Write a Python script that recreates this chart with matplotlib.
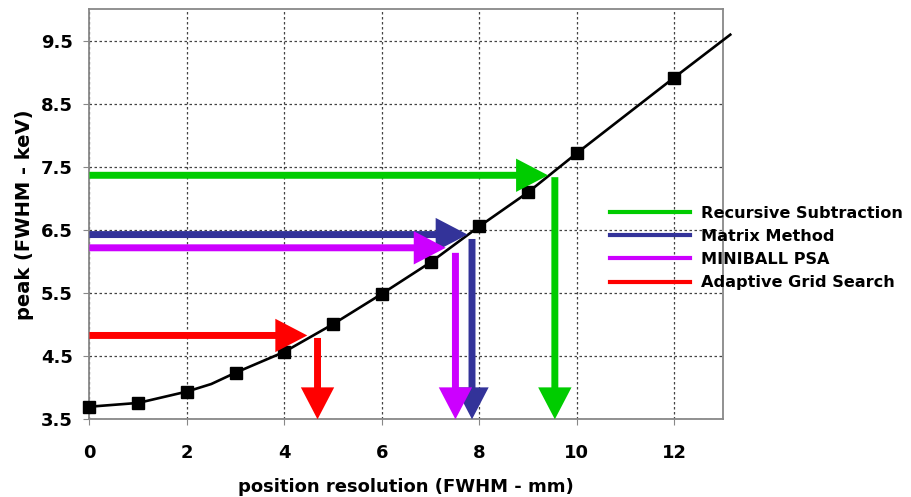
import matplotlib
matplotlib.use("Agg")
import matplotlib.pyplot as plt
from matplotlib.patches import FancyArrowPatch
from matplotlib.lines import Line2D

plt.rcParams['font.family'] = ['DejaVu Sans']
plt.rcParams['font.weight'] = 'bold'

# measured peak width vs. position resolution
resolution = [0, 1, 2, 3, 4, 5, 6, 7, 8, 9, 10, 12]
peak = [3.70, 3.76, 3.94, 4.24, 4.57, 5.01, 5.49, 5.99, 6.56, 7.10, 7.72, 8.92]
# trend line continues a little past the last measured point
trend_x = [0, 1, 2, 2.5, 3, 4, 5, 6, 7, 8, 9, 10, 12, 13.15]
trend_y = [3.70, 3.76, 3.94, 4.06, 4.24, 4.57, 5.01, 5.49, 5.99, 6.56, 7.10, 7.72, 8.92, 9.60]

methods = ['Recursive Subtraction', 'Matrix Method', 'MINIBALL PSA', 'Adaptive Grid Search']
colors = ['#00cc00', '#333399', '#cc00ff', '#ff0000']
peak_level = [7.37, 6.43, 6.22, 4.83]      # horizontal arrows (keV)
peak_tip = [9.41, 7.76, 7.31, 4.47]        # where the horizontal arrow ends (mm)
pos_value = [9.55, 7.85, 7.51, 4.68]       # vertical arrows (mm)
pos_start = [7.34, 6.36, 6.14, 4.79]

fig = plt.figure(figsize=(9.11, 4.97), dpi=100)
ax = fig.add_axes([0.0982, 0.1563, 0.6954, 0.8247])

ax.set_xlim(0, 13)
ax.set_ylim(3.5, 10.0)
ax.set_xticks(range(0, 13, 2))
ax.set_yticks([3.5, 4.5, 5.5, 6.5, 7.5, 8.5, 9.5])
ax.set_yticklabels(['3.5', '4.5', '5.5', '6.5', '7.5', '8.5', '9.5'])
ax.grid(True, linestyle=(0, (2, 2)), color='#444444', linewidth=0.9)
ax.set_axisbelow(True)
for s in ax.spines.values():
    s.set_color('#888888')
    s.set_linewidth(1.3)
ax.tick_params(labelsize=13, length=4, color='#888888')
ax.tick_params(axis='x', pad=14)
ax.tick_params(axis='y', pad=8)
for lab in ax.get_xticklabels() + ax.get_yticklabels():
    lab.set_fontweight('bold')

ax.set_xlabel('position resolution (FWHM - mm)', fontsize=13, fontweight='bold', labelpad=11)
ax.set_ylabel('peak (FWHM - keV)', fontsize=14, fontweight='bold', labelpad=5)

ax.plot(trend_x, trend_y, color='black', linewidth=1.9, clip_on=False, zorder=3)
ax.plot(resolution, peak, linestyle='none', marker='s', markersize=8.5,
        color='black', zorder=4, clip_on=False)

style = 'simple,head_length=23,head_width=24,tail_width=5'
for c, lvl, tip, px, py in zip(colors, peak_level, peak_tip, pos_value, pos_start):
    ax.add_patch(FancyArrowPatch((0, lvl), (tip, lvl), arrowstyle=style,
                                 mutation_scale=1, color=c, shrinkA=0, shrinkB=0,
                                 linewidth=0, zorder=5))
    ax.add_patch(FancyArrowPatch((px, py), (px, 3.5), arrowstyle=style,
                                 mutation_scale=1, color=c, shrinkA=0, shrinkB=0,
                                 linewidth=0, zorder=5))

handles = [Line2D([], [], color=c, linewidth=3) for c in colors]
fig.legend(handles, methods, loc='upper left', bbox_to_anchor=(610 / 911, 1 - 206 / 497),
           frameon=False, prop={'weight': 'bold', 'size': 11.6},
           handlelength=4.95, handletextpad=0.72, labelspacing=0.5,
           borderpad=0, borderaxespad=0)

fig.savefig('out.png', dpi=100)
